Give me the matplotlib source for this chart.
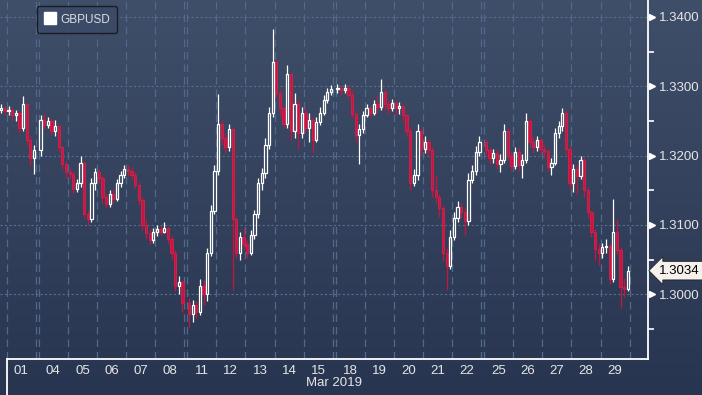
import matplotlib
matplotlib.use("Agg")
import matplotlib.pyplot as plt
import matplotlib.transforms as mtransforms
from matplotlib.lines import Line2D
import numpy as np

plt.rcParams['font.family'] = ['Liberation Sans', 'DejaVu Sans']

# GBPUSD, 3-hour bars, March 2019 (first two bars = end of 28 Feb)
days = ["01", "04", "05", "06", "07", "08", "11", "12", "13", "14", "15",
        "18", "19", "20", "21", "22", "25", "26", "27", "28", "29"]
bars_per_day = 8
first_open = 1.3266

closes = [
    1.3268, 1.3264,
    1.3266, 1.3258, 1.3262, 1.3240, 1.3275, 1.3222, 1.3196, 1.3208,  # 01
    1.3252, 1.3244, 1.3250, 1.3236, 1.3242, 1.3212, 1.3188, 1.3176,  # 04
    1.3174, 1.3152, 1.3160, 1.3190, 1.3115, 1.3108, 1.3160, 1.3176,  # 05
    1.3168, 1.3140, 1.3130, 1.3145, 1.3138, 1.3160, 1.3172, 1.3180,  # 06
    1.3178, 1.3172, 1.3158, 1.3136, 1.3100, 1.3088, 1.3078, 1.3090,  # 07
    1.3094, 1.3090, 1.3096, 1.3080, 1.3060, 1.3012, 1.3018, 1.2988,  # 08
    1.2972, 1.2985, 1.2975, 1.3012, 1.3000, 1.3060, 1.3120, 1.3178,  # 11
    1.3245, 1.3225, 1.3212, 1.3238, 1.3108, 1.3060, 1.3082, 1.3072,  # 12
    1.3060, 1.3085, 1.3115, 1.3160, 1.3175, 1.3215, 1.3262, 1.3335,  # 13
    1.3290, 1.3268, 1.3245, 1.3318, 1.3235, 1.3275, 1.3232, 1.3262,  # 14
    1.3240, 1.3252, 1.3222, 1.3248, 1.3262, 1.3280, 1.3292, 1.3296,  # 15
    1.3298, 1.3294, 1.3298, 1.3288, 1.3260, 1.3230, 1.3238, 1.3258,  # 18
    1.3268, 1.3262, 1.3274, 1.3270, 1.3292, 1.3275, 1.3268, 1.3276,  # 19
    1.3268, 1.3272, 1.3258, 1.3236, 1.3160, 1.3172, 1.3235, 1.3210,  # 20
    1.3220, 1.3208, 1.3150, 1.3140, 1.3125, 1.3060, 1.3040, 1.3082,  # 21
    1.3110, 1.3126, 1.3118, 1.3105, 1.3165, 1.3178, 1.3205, 1.3220,  # 22
    1.3208, 1.3196, 1.3204, 1.3188, 1.3194, 1.3236, 1.3200, 1.3185,  # 25
    1.3205, 1.3186, 1.3194, 1.3250, 1.3220, 1.3212, 1.3222, 1.3210,  # 26
    1.3206, 1.3184, 1.3190, 1.3232, 1.3242, 1.3262, 1.3210, 1.3160,  # 27
    1.3180, 1.3170, 1.3194, 1.3150, 1.3118, 1.3090, 1.3065, 1.3060,  # 28
    1.3068, 1.3070, 1.3022, 1.3090, 1.3064, 1.3010, 1.3008, 1.3034,  # 29
]
highs = [
    1.3274, 1.3272,
    1.3272, 1.3268, 1.3266, 1.3264, 1.3286, 1.3276, 1.3228, 1.3215,
    1.3258, 1.3262, 1.3256, 1.3254, 1.3251, 1.3245, 1.3214, 1.3192,
    1.3182, 1.3178, 1.3166, 1.3199, 1.3192, 1.3122, 1.3168, 1.3182,
    1.3180, 1.3172, 1.3146, 1.3150, 1.3152, 1.3166, 1.3178, 1.3186,
    1.3186, 1.3184, 1.3176, 1.3162, 1.3140, 1.3108, 1.3094, 1.3096,
    1.3100, 1.3098, 1.3104, 1.3098, 1.3084, 1.3064, 1.3026, 1.3020,
    1.2995, 1.2992, 1.2990, 1.3022, 1.3020, 1.3066, 1.3128, 1.3186,
    1.3289, 1.3252, 1.3232, 1.3245, 1.3240, 1.3112, 1.3090, 1.3096,
    1.3078, 1.3092, 1.3122, 1.3168, 1.3182, 1.3225, 1.3270, 1.3383,
    1.3340, 1.3295, 1.3272, 1.3330, 1.3320, 1.3290, 1.3280, 1.3270,
    1.3268, 1.3262, 1.3255, 1.3256, 1.3270, 1.3288, 1.3298, 1.3302,
    1.3304, 1.3302, 1.3303, 1.3300, 1.3294, 1.3266, 1.3246, 1.3264,
    1.3274, 1.3272, 1.3280, 1.3286, 1.3311, 1.3296, 1.3280, 1.3282,
    1.3280, 1.3278, 1.3274, 1.3260, 1.3240, 1.3180, 1.3245, 1.3240,
    1.3228, 1.3224, 1.3212, 1.3172, 1.3145, 1.3128, 1.3066, 1.3092,
    1.3118, 1.3134, 1.3132, 1.3124, 1.3175, 1.3186, 1.3214, 1.3228,
    1.3224, 1.3212, 1.3210, 1.3208, 1.3202, 1.3246, 1.3240, 1.3206,
    1.3212, 1.3212, 1.3202, 1.3262, 1.3254, 1.3228, 1.3228, 1.3226,
    1.3216, 1.3210, 1.3196, 1.3240, 1.3250, 1.3269, 1.3266, 1.3214,
    1.3188, 1.3186, 1.3200, 1.3198, 1.3154, 1.3122, 1.3094, 1.3072,
    1.3074, 1.3080, 1.3074, 1.3138, 1.3108, 1.3068, 1.3024, 1.3040,
]
lows = [
    1.3262, 1.3258,
    1.3258, 1.3252, 1.3250, 1.3232, 1.3236, 1.3215, 1.3185, 1.3174,
    1.3200, 1.3238, 1.3240, 1.3230, 1.3228, 1.3205, 1.3180, 1.3168,
    1.3166, 1.3145, 1.3148, 1.3155, 1.3110, 1.3100, 1.3104, 1.3150,
    1.3160, 1.3132, 1.3125, 1.3126, 1.3132, 1.3135, 1.3155, 1.3168,
    1.3170, 1.3166, 1.3152, 1.3128, 1.3092, 1.3080, 1.3072, 1.3074,
    1.3084, 1.3086, 1.3088, 1.3072, 1.3050, 1.3004, 1.3000, 1.2975,
    1.2952, 1.2960, 1.2966, 1.2970, 1.2985, 1.2990, 1.3055, 1.3115,
    1.3172, 1.3215, 1.3204, 1.3206, 1.3006, 1.3052, 1.3050, 1.3064,
    1.3052, 1.3056, 1.3080, 1.3110, 1.3150, 1.3168, 1.3210, 1.3255,
    1.3284, 1.3255, 1.3240, 1.3240, 1.3222, 1.3226, 1.3210, 1.3225,
    1.3232, 1.3220, 1.3204, 1.3220, 1.3244, 1.3258, 1.3276, 1.3288,
    1.3290, 1.3288, 1.3290, 1.3282, 1.3254, 1.3220, 1.3188, 1.3232,
    1.3255, 1.3256, 1.3258, 1.3262, 1.3266, 1.3266, 1.3260, 1.3264,
    1.3258, 1.3260, 1.3250, 1.3228, 1.3150, 1.3156, 1.3165, 1.3200,
    1.3204, 1.3200, 1.3140, 1.3132, 1.3112, 1.3048, 1.3006, 1.3036,
    1.3078, 1.3104, 1.3110, 1.3085, 1.3100, 1.3160, 1.3172, 1.3200,
    1.3198, 1.3188, 1.3190, 1.3180, 1.3176, 1.3190, 1.3192, 1.3178,
    1.3180, 1.3178, 1.3168, 1.3190, 1.3212, 1.3204, 1.3206, 1.3202,
    1.3196, 1.3178, 1.3172, 1.3186, 1.3226, 1.3236, 1.3200, 1.3152,
    1.3148, 1.3145, 1.3166, 1.3140, 1.3110, 1.3082, 1.3050, 1.3042,
    1.3052, 1.3060, 1.3014, 1.3018, 1.3058, 1.2980, 1.2996, 1.3004,
]

yticks = [1.30, 1.31, 1.32, 1.33, 1.34]

# ---- build OHLC arrays
c = np.array(closes)
o = np.concatenate([[first_open], c[:-1]])
h = np.maximum(np.array(highs), np.maximum(o, c))
l = np.minimum(np.array(lows), np.minimum(o, c))

# ---- x layout: one unit per trading day, small gap at weekends
day_num = np.array([int(d) for d in days])
gap_count = np.concatenate([[0], np.cumsum(np.diff(day_num) > 1)])
day_start = np.arange(len(days)) + 0.1 * gap_count
slot = 1.0 / bars_per_day
n_pre = len(closes) - len(days) * bars_per_day
x_pre = -1 + (bars_per_day - n_pre + np.arange(n_pre) + 0.5) * slot
x_main = (day_start[:, None] + (np.arange(bars_per_day) + 0.5) * slot).ravel()
x = np.concatenate([x_pre, x_main])

xmin, xmax = -0.23, day_start[-1] + 1.63
ymin, ymax = 1.29065, 1.34245

fig = plt.figure(figsize=(7.02, 3.95), dpi=100)

# gradient background
bg = fig.add_axes([0, 0, 1, 1], zorder=-5)
grad = np.linspace(0, 1, 256)[:, None]
top = np.array([63, 78, 105]) / 255
bot = np.array([40, 53, 80]) / 255
img = top[None, None, :] * (1 - grad[:, :, None]) + bot[None, None, :] * grad[:, :, None]
bg.imshow(img, aspect='auto', extent=[0, 1, 0, 1])
bg.axis('off')

ax = fig.add_axes([0, 36 / 395, 648 / 702, 359 / 395])
ax.set_facecolor('none')
ax.set_xlim(xmin, xmax)
ax.set_ylim(ymin, ymax)

# grid
grid_x = sorted(set(np.round(np.concatenate([day_start, day_start + 1]), 4)))
for gx in grid_x:
    ax.axvline(gx, color='#51698a', lw=0.9, dashes=(6, 4), zorder=1)
for gy in yticks:
    ax.axhline(gy, color='#566e90', lw=0.8, dashes=(2, 2), zorder=1)

# candles
up = c >= o
w = slot * 0.62
body_lo = np.minimum(o, c)
body_hi = np.maximum(o, c)
red = '#c8143e'
colors = np.where(up, '#ffffff', red)
ax.vlines(x, body_hi, h, colors=colors, lw=0.9, zorder=3)
ax.vlines(x, l, body_lo, colors=colors, lw=0.9, zorder=3)
ax.bar(x[~up], (body_hi - body_lo)[~up], width=w, bottom=body_lo[~up],
       color=red, edgecolor='#dc1e4a', lw=0.6, zorder=4)
ax.bar(x[up], np.maximum(body_hi - body_lo, 0.00002)[up], width=w, bottom=body_lo[up],
       facecolor='none', edgecolor='#ffffff', lw=0.9, zorder=4)

# spines and ticks
for s in ['top', 'left', 'bottom']:
    ax.spines[s].set_visible(False)
ax.spines['right'].set_color('white')
ax.spines['right'].set_linewidth(1.3)
ax.plot([0, xmax], [ymin, ymin], color='white', lw=1.3, clip_on=False, zorder=6)
fig.add_artist(Line2D([6.7 / 702, 6.7 / 702], [0, 36 / 395], color='white', lw=1.3))

ax.yaxis.tick_right()
ax.set_yticks(yticks)
ax.set_yticklabels([f"{v:.4f}" for v in yticks])
ax.set_yticks([1.295, 1.305, 1.315, 1.325, 1.335], minor=True)
ax.tick_params(axis='y', which='major', length=0, pad=8, labelsize=9.5, labelcolor='#e6e6e6')
ax.tick_params(axis='y', which='minor', length=4, width=1.2, color='white', direction='out')
tri = mtransforms.offset_copy(ax.transData, fig=fig, x=3, y=0, units='points')
ax.plot([xmax] * len(yticks), yticks, ls='none', marker='>', ms=5, color='white',
        transform=tri, clip_on=False, zorder=6)

ax.set_xticks(day_start + 0.5)
ax.set_xticklabels(days)
ax.tick_params(axis='x', length=0, pad=4, labelsize=9.5, labelcolor='#e6e6e6')
ax.text((day_start[10] + 1 + day_start[11]) / 2, -0.066, "Mar 2019",
        transform=ax.get_xaxis_transform(), ha='center', va='center',
        fontsize=9.5, color='#e6e6e6')

# last price tag
ax.annotate(f"{closes[-1]:.4f}", xy=(1, closes[-1]), xycoords=('axes fraction', 'data'),
            xytext=(8, 0), textcoords='offset points', ha='left', va='center',
            fontsize=9.5, color='black', annotation_clip=False,
            bbox=dict(boxstyle='larrow,pad=0.25', fc='#f6f1ec', ec='#222222', lw=0.6))

# legend
handle = Line2D([], [], ls='none', marker='s', ms=8, color='white')
leg = ax.legend([handle], ['GBPUSD'], loc='upper left', bbox_to_anchor=(0.057, 0.982),
                borderaxespad=0, fontsize=8.5, frameon=True, handletextpad=0.4,
                handlelength=1.0, borderpad=0.6)
leg.get_frame().set_facecolor('#3b4a67')
leg.get_frame().set_edgecolor('#111111')
leg.get_frame().set_linewidth(1.0)
for t in leg.get_texts():
    t.set_color('#dddddd')

fig.savefig("out.png", dpi=100)
